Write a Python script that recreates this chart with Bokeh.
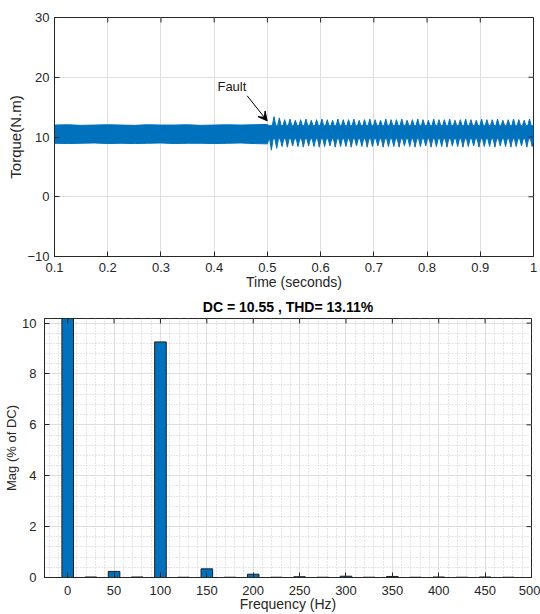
import math
from bokeh.plotting import figure
from bokeh.models import Range1d, FixedTicker, Arrow, VeeHead, Label, NumeralTickFormatter
from bokeh.layouts import column, row
from bokeh.embed import file_html
from bokeh.resources import INLINE

# ---------------- data ----------------
# Torque before the fault: envelope of the switching ripple band (N.m)
pre_t = [0.100, 0.125, 0.150, 0.175, 0.200, 0.225, 0.250, 0.275, 0.300,
         0.325, 0.350, 0.375, 0.400, 0.425, 0.450, 0.475, 0.500]
pre_hi = [12.0, 12.05, 11.95, 12.0, 12.05, 12.0, 11.95, 12.05, 12.0,
          12.0, 12.05, 11.95, 12.0, 12.05, 12.0, 12.05, 12.1]
pre_lo = [8.95, 8.9, 8.95, 9.0, 8.9, 8.95, 8.9, 8.95, 9.0,
          8.9, 8.95, 8.95, 8.9, 8.95, 9.0, 8.9, 8.85]

# Torque after the fault: 100 Hz pulsation, one peak and one trough per cycle
ripple_period = 0.01
first_peak_t = 0.5125
first_trough_t = 0.5075
post_hi_base = 11.9
post_lo_base = 9.7
post_peaks = [13.4, 13.2, 12.9, 13.0, 12.8, 12.9, 13.0, 12.8, 12.9, 13.0,
              12.9, 12.8, 13.0, 12.9, 12.9, 13.0, 12.8, 12.9, 13.0, 12.9,
              12.8, 13.0, 12.9, 12.9, 13.0, 12.8, 12.9, 13.0, 12.9, 12.8,
              13.0, 12.9, 12.9, 13.0, 12.8, 12.9, 13.0, 12.9, 12.8, 13.0,
              12.9, 12.9, 13.0, 12.8, 12.9, 13.0, 12.9, 12.8, 13.0]
post_troughs = [7.8, 8.1, 8.4, 8.3, 8.5, 8.4, 8.3, 8.5, 8.4, 8.3,
                8.4, 8.5, 8.3, 8.4, 8.4, 8.3, 8.5, 8.4, 8.3, 8.4,
                8.5, 8.3, 8.4, 8.4, 8.3, 8.5, 8.4, 8.3, 8.4, 8.5,
                8.3, 8.4, 8.4, 8.3, 8.5, 8.4, 8.3, 8.4, 8.5, 8.3,
                8.4, 8.4, 8.3, 8.5, 8.4, 8.3, 8.4, 8.5, 8.3, 8.4]

time_ticks = [0.1, 0.2, 0.3, 0.4, 0.5, 0.6, 0.7, 0.8, 0.9, 1.0]
torque_ticks = [-10, 0, 10, 20, 30]

# FFT of the torque (magnitude in % of DC)
fft_freq = [0, 25, 50, 75, 100, 125, 150, 175, 200, 225,
            250, 275, 300, 325, 350, 375, 400, 425, 450, 475]
fft_mag = [100.0, 0.02, 0.24, 0.02, 9.26, 0.01, 0.34, 0.01, 0.13, 0.01,
           0.03, 0.01, 0.05, 0.01, 0.04, 0.01, 0.02, 0.01, 0.02, 0.01]
freq_ticks = [0, 50, 100, 150, 200, 250, 300, 350, 400, 450, 500]
mag_ticks = [0, 2, 4, 6, 8, 10]
fft_title = "DC = 10.55 , THD= 13.11%"

# ---------------- style ----------------
FONT = "Liberation Sans"
INK = "#262626"
BLUE = "#0072BD"
GRID = "#DEDEDE"
TICK_LEN = 5


def style_axis(ax, tick_size, label_size, standoff, label_standoff):
    ax.axis_line_color = INK
    ax.major_tick_line_color = INK
    ax.major_tick_in = TICK_LEN
    ax.major_tick_out = 0
    ax.minor_tick_line_color = None
    ax.major_label_text_font = FONT
    ax.major_label_text_color = INK
    ax.major_label_text_font_size = tick_size
    ax.major_label_standoff = standoff
    ax.axis_label_text_font = FONT
    ax.axis_label_text_font_size = label_size
    ax.axis_label_text_font_style = "normal"
    ax.axis_label_text_color = INK
    ax.axis_label_standoff = label_standoff


def box_ticks(p, xticks, yticks, x_right, y_top):
    """Inward ticks along the top and right edges of the frame."""
    p.ray(x=xticks, y=[y_top] * len(xticks), length=TICK_LEN, length_units="screen",
          angle=-math.pi / 2, line_color=INK, line_width=1)
    p.ray(x=[x_right] * len(yticks), y=yticks, length=TICK_LEN, length_units="screen",
          angle=math.pi, line_color=INK, line_width=1)


# ---------------- torque vs time ----------------
t_lo, t_hi = 0.1, 1.0
q_lo, q_hi = -10, 30
p1 = figure(width=540, height=293, x_range=Range1d(t_lo, t_hi), y_range=Range1d(q_lo, q_hi),
            output_backend="svg", toolbar_location=None,
            min_border_left=54, min_border_right=7, min_border_top=17, min_border_bottom=37)
p1.outline_line_color = INK

t_ticker = FixedTicker(ticks=time_ticks)
y_ticker = FixedTicker(ticks=torque_ticks)
p1.xaxis.ticker = t_ticker
p1.xaxis.formatter = NumeralTickFormatter(format="0.[0]")
p1.yaxis.ticker = y_ticker
style_axis(p1.xaxis[0], "13px", "14px", 6, -1)
style_axis(p1.yaxis[0], "13px", "15px", 5, 0)
p1.xaxis.axis_label = "Time (seconds)"
p1.yaxis.axis_label = "Torque(N.m)"
p1.xgrid.ticker = t_ticker
p1.ygrid.ticker = y_ticker
p1.grid.grid_line_color = GRID

# outline of the torque band: upper edge left to right, lower edge back
half_w = 0.33 * ripple_period
up_x, up_y = list(pre_t), list(pre_hi)
up_x.append(0.503)
up_y.append(post_hi_base)
for k, v in enumerate(post_peaks):
    tp = first_peak_t + k * ripple_period
    up_x += [tp - half_w, tp, tp + half_w]
    up_y += [post_hi_base, v, post_hi_base]
up_x.append(1.002)
up_y.append(post_hi_base)

lo_x, lo_y = list(pre_t), list(pre_lo)
lo_x.append(0.503)
lo_y.append(post_lo_base)
for k, v in enumerate(post_troughs):
    tt = first_trough_t + k * ripple_period
    lo_x += [tt - half_w, tt, tt + half_w]
    lo_y += [post_lo_base, v, post_lo_base]
lo_x.append(1.002)
lo_y.append(post_lo_base)

p1.patch(up_x + lo_x[::-1], up_y + lo_y[::-1],
         fill_color=BLUE, line_color=BLUE, line_width=1)
box_ticks(p1, time_ticks, torque_ticks, t_hi, q_hi)

p1.add_layout(Arrow(end=VeeHead(size=9, fill_color="black", line_color="black"),
                    x_start=0.462, y_start=16.9, x_end=0.4996, y_end=12.7,
                    line_color="black", line_width=1))
p1.add_layout(Label(x=0.4333, y=18.46, text="Fault", text_align="center",
                    text_baseline="middle", text_font=FONT, text_font_size="13px",
                    text_color="#1a1a1a"))

# ---------------- FFT spectrum ----------------
f_lo, f_hi = -25, 500
m_lo, m_hi = 0, 10.18
p2 = figure(width=540, height=321, x_range=Range1d(f_lo, f_hi), y_range=Range1d(m_lo, m_hi),
            output_backend="svg", toolbar_location=None,
            min_border_left=44, min_border_right=9, min_border_top=25, min_border_bottom=36)
p2.outline_line_color = INK
p2.title.text = fft_title
p2.title.align = "center"
p2.title.text_font = FONT
p2.title.text_font_size = "14px"
p2.title.text_font_style = "bold"
p2.title.text_color = "black"
p2.title.standoff = 7

f_ticker = FixedTicker(ticks=freq_ticks,
                       minor_ticks=[f for f in range(-20, 501, 10) if f % 50 != 0])
m_ticker = FixedTicker(ticks=mag_ticks,
                       minor_ticks=[i * 0.4 for i in range(1, 26) if i % 5 != 0])
p2.xaxis.ticker = f_ticker
p2.yaxis.ticker = m_ticker
style_axis(p2.xaxis[0], "13px", "14px", 4, -2)
style_axis(p2.yaxis[0], "13px", "13px", 4, 0)
p2.xaxis.axis_label = "Frequency (Hz)"
p2.yaxis.axis_label = "Mag (% of DC)"
p2.xgrid.ticker = f_ticker
p2.ygrid.ticker = m_ticker
p2.grid.grid_line_color = GRID
p2.grid.minor_grid_line_color = "#CCCCCC"
p2.grid.minor_grid_line_dash = "1 2"

p2.vbar(x=fft_freq, top=fft_mag, width=12.5, bottom=0,
        fill_color=BLUE, line_color="#1f1f1f", line_width=1)
box_ticks(p2, freq_ticks, mag_ticks, f_hi, m_hi)

# each figure sits in its own row so the two frames keep their own left edges
layout = column(row(p1), row(p2))
open("out.html", "w").write(file_html(layout, INLINE))
